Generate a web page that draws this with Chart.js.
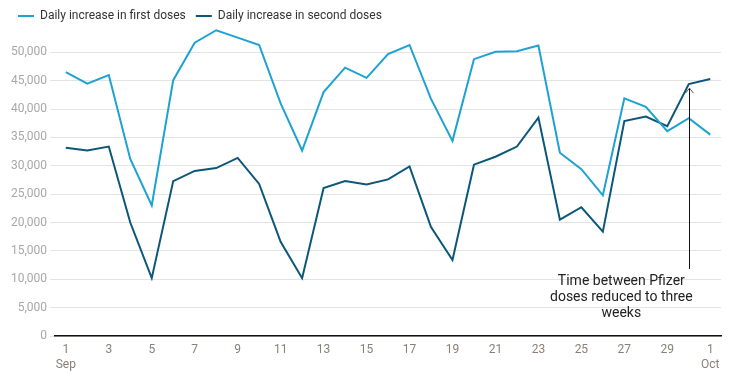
<!DOCTYPE html>
<html>
<head>
<meta charset="utf-8">
<script src="https://cdn.jsdelivr.net/npm/chart.js@4"></script>
<style>
  html, body { margin: 0; padding: 0; background: #fff; }
  #wrap { width: 738px; height: 378px; position: relative; }
</style>
</head>
<body>
<div id="wrap"><canvas id="c"></canvas></div>
<script>
// Categories: days from 1 Sep to 1 Oct
const days = ['1','2','3','4','5','6','7','8','9','10','11','12','13','14','15','16','17','18','19','20','21','22','23','24','25','26','27','28','29','30','1'];
const monthLabels = { 0: 'Sep', 30: 'Oct' };

const firstDoses = [46500, 44500, 46000, 31200, 23000, 45100, 51700, 53900, 52600, 51300, 41000, 32700, 43000, 47300, 45500, 49700, 51300, 41800, 34400, 48800, 50100, 50200, 51200, 32300, 29400, 24800, 41900, 40400, 36100, 38400, 35500];
const secondDoses = [33200, 32700, 33400, 20000, 10200, 27300, 29100, 29600, 31400, 26800, 16600, 10200, 26100, 27300, 26700, 27600, 29900, 19200, 13400, 30200, 31600, 33400, 38500, 20500, 22700, 18400, 37900, 38700, 37000, 44400, 45300];

const yTickMax = 50000;
const yTickStep = 5000;

const annotation = {
  index: 29,
  bottomValue: 11800,
  lines: ['Time between Pfizer', 'doses reduced to three', 'weeks']
};

const legendTrim = {
  id: 'legendTrim',
  beforeLayout(chart) {
    const lg = chart.legend;
    if (lg && !lg._trimmed) {
      const orig = lg.fit.bind(lg);
      lg.fit = function () { orig(); this.height -= 8; };
      lg._trimmed = true;
    }
  }
};

const arrowPlugin = {
  id: 'arrowNote',
  afterDatasetsDraw(chart) {
    const { ctx, scales: { x, y } } = chart;
    const px = Math.round(x.getPixelForValue(annotation.index)) + 0.5;
    const yTop = y.getPixelForValue(secondDoses[annotation.index]) + 4;
    const yBot = y.getPixelForValue(annotation.bottomValue);
    ctx.save();
    ctx.strokeStyle = '#111';
    ctx.lineWidth = 1;
    ctx.beginPath();
    ctx.moveTo(px, yBot);
    ctx.lineTo(px, yTop);
    ctx.stroke();
    ctx.strokeStyle = '#555';
    ctx.beginPath();
    ctx.moveTo(px - 4, yTop + 5);
    ctx.lineTo(px, yTop);
    ctx.lineTo(px + 4, yTop + 5);
    ctx.stroke();
    ctx.fillStyle = '#222';
    ctx.font = '14px Roboto';
    ctx.textAlign = 'center';
    ctx.textBaseline = 'middle';
    const cx = x.getPixelForValue(annotation.index - 3) - 3;
    annotation.lines.forEach((t, i) => {
      ctx.fillText(t, cx, yBot + 12 + i * 16.3);
    });
    ctx.restore();
  }
};

new Chart(document.getElementById('c'), {
  type: 'line',
  data: {
    labels: days,
    datasets: [
      {
        label: 'Daily increase in first doses',
        data: firstDoses,
        borderColor: '#1ea2d2',
        backgroundColor: '#1ea2d2',
        borderWidth: 2,
        pointRadius: 0,
        tension: 0,
        clip: false
      },
      {
        label: 'Daily increase in second doses',
        data: secondDoses,
        borderColor: '#0c5679',
        backgroundColor: '#0c5679',
        borderWidth: 2,
        pointRadius: 0,
        tension: 0,
        clip: false
      }
    ]
  },
  options: {
    responsive: true,
    maintainAspectRatio: false,
    animation: false,
    layout: { padding: { left: 8, right: 17, top: 0, bottom: 0 } },
    plugins: {
      legend: {
        display: true,
        position: 'top',
        align: 'start',
        labels: {
          usePointStyle: true,
          pointStyle: 'line',
          pointStyleWidth: 16,
          padding: 10,
          color: '#333',
          font: { family: 'Roboto', size: 12 }
        }
      },
      tooltip: { enabled: false }
    },
    scales: {
      x: {
        offset: true,
        grid: { display: false, drawTicks: false },
        border: { display: true, color: '#111', width: 1.5 },
        ticks: {
          autoSkip: false,
          maxRotation: 0,
          padding: 6,
          color: '#8a8079',
          font: { family: 'Roboto', size: 12, lineHeight: 1.25 },
          callback: function (val, i) {
            if (i % 2 !== 0) return null;
            const d = days[i];
            return monthLabels[i] ? [d, monthLabels[i]] : d;
          }
        }
      },
      y: {
        min: 0,
        max: 55000,
        border: { display: false },
        grid: { color: '#e3e3e3', lineWidth: 1, tickLength: 5, drawTicks: true },
        afterBuildTicks(scale) {
          scale.ticks = scale.ticks.filter(t => t.value <= yTickMax);
        },
        ticks: {
          stepSize: yTickStep,
          padding: 3,
          color: '#a8a8a8',
          font: { family: 'Roboto', size: 12 },
          callback: v => v.toLocaleString('en-US')
        }
      }
    }
  },
  plugins: [legendTrim, arrowPlugin]
});
</script>
</body>
</html>
